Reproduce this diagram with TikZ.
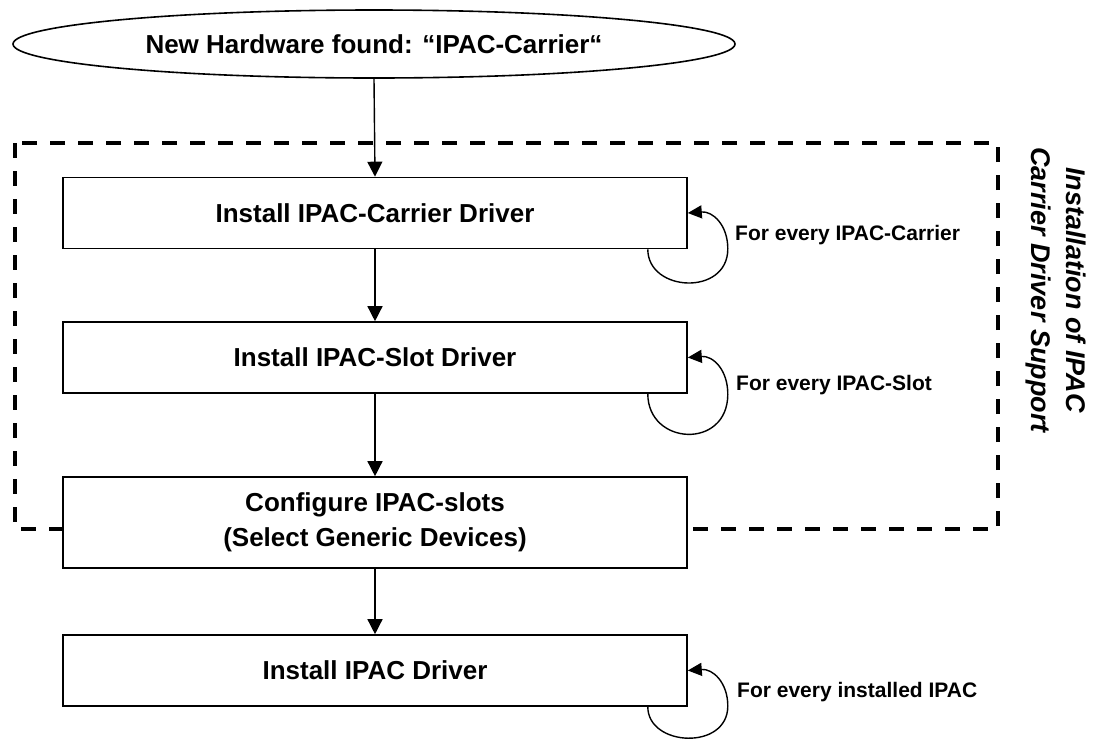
\documentclass[tikz,border=0pt]{standalone}
\usepackage{fontspec}
\setmainfont{Liberation Sans}
\usetikzlibrary{shapes.geometric,arrows.meta,calc}
\begin{document}
\begin{tikzpicture}[x=1pt,y=-1pt,
  stepbox/.style={draw,line width=1.6pt,fill=white,minimum width=624pt,inner sep=0pt,align=center,font=\fontsize{26}{35}\selectfont\bfseries},
  flow/.style={line width=1.4pt,-{Triangle[length=15pt,width=15pt]}},
  loopar/.style={line width=1.4pt,-{Triangle[length=14pt,width=13pt]}},
  looplabel/.style={anchor=west,inner sep=0pt,font=\fontsize{21}{25}\selectfont\bfseries},
  groupbox/.style={line width=4pt,dash pattern=on 15pt off 13pt}
]
\useasboundingbox (0,0) rectangle (1093,740);
% group
\draw[groupbox] (15,143) rectangle (998,529);
\node[rotate=-90,align=center,inner sep=0pt,font=\fontsize{27}{35}\selectfont\bfseries\itshape] (grp) at (1055.5,290) {Installation of IPAC\\Carrier Driver Support};
% start
\node[draw,ellipse,line width=1.6pt,minimum width=722pt,minimum height=68pt,inner sep=0pt,font=\fontsize{26}{32}\selectfont\bfseries] (start) at (374,44) {New Hardware found: “IPAC-Carrier“};
% steps
\node[stepbox,minimum height=71pt] (b1) at (375,213) {Install IPAC-Carrier Driver};
\node[stepbox,minimum height=71pt] (b2) at (375,357.5) {Install IPAC-Slot Driver};
\node[stepbox,minimum height=91pt] (b3) at (375,522.5) {Configure IPAC-slots\\(Select Generic Devices)};
\node[stepbox,minimum height=71pt] (b4) at (375,670.5) {Install IPAC Driver};
% connectors
\draw[flow] (start.south) -- (b1.north);
\draw[flow] (b1.south) -- (b2.north);
\draw[flow] (b2.south) -- (b3.north);
\draw[flow] (b3.south) -- (b4.north);
% loops
\foreach \b/\d in {b1/35, b2/44, b4/32}{
  \coordinate (\b s) at ($(\b.south east)+(-40,0)$);
  \draw[loopar] (\b s) .. controls ($(\b s)+(0,\d+8)$) and ($(\b s)+(80,\d+12)$) .. ($(\b s)+(80,\d*0.1-4)$)
     .. controls ($(\b.east)+(40,12)$) and ($(\b.east)+(25,-2)$) .. (\b.east);
}
\node[looplabel] (l1) at (735,235) {For every IPAC-Carrier};
\node[looplabel] (l2) at (736,385) {For every IPAC-Slot};
\node[looplabel] (l4) at (737,692) {For every installed IPAC};
\end{tikzpicture}
\end{document}
